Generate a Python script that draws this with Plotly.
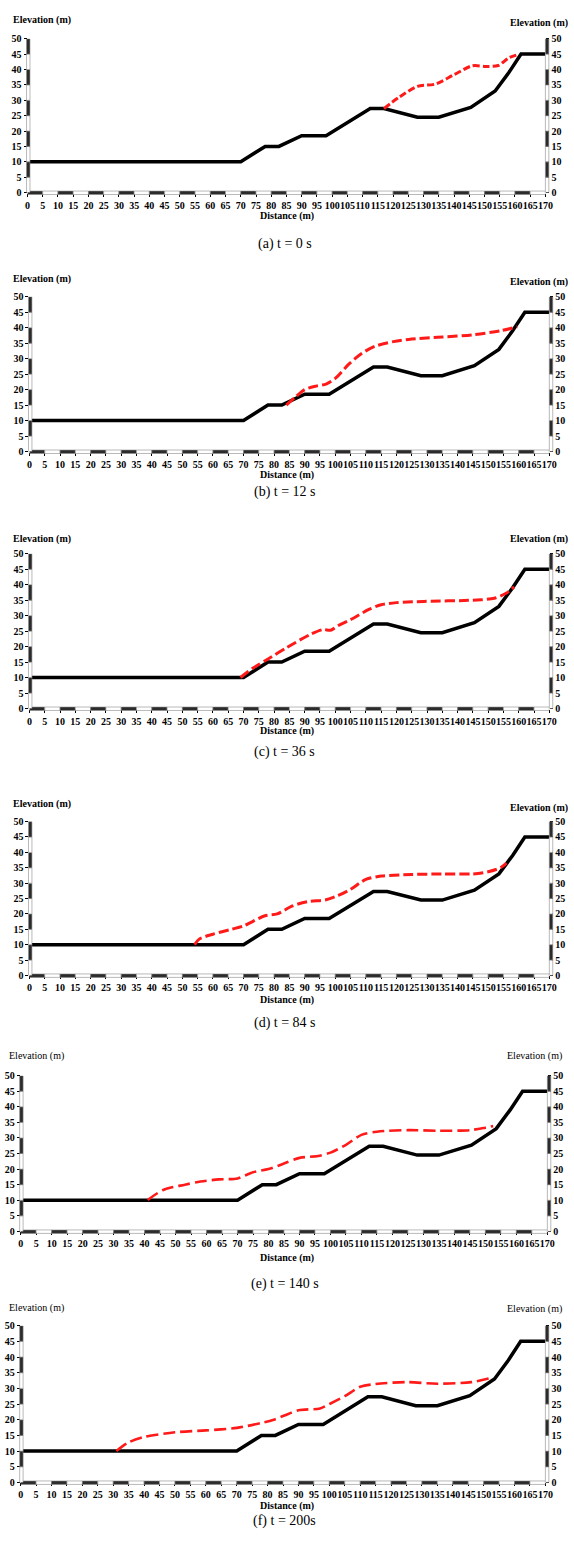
import plotly.graph_objects as go

W, H = 574, 1546

# ---- data -------------------------------------------------------------
distance_ticks = list(range(0, 171, 5))
elevation_ticks = list(range(0, 51, 5))

# ground profile (same in every panel)
terrain_x = [0, 70, 78, 82.5, 90, 98, 112.5, 117, 128, 135, 145.5, 153.5, 158, 162, 170]
terrain_y = [10, 10, 15, 15, 18.5, 18.5, 27.3, 27.3, 24.5, 24.5, 27.7, 33, 39, 45, 45]

# flow surface at each time step
surface_a_x = [117, 122, 128, 134, 140, 146, 150.5, 154.5, 158, 161.5]
surface_a_y = [27.3, 31, 34.5, 35.3, 38.3, 41.2, 41, 41.3, 43.8, 45]

surface_b_x = [84, 87, 90, 94, 97, 100, 104.5, 108.5, 113, 119, 124, 135, 145, 154, 159.5]
surface_b_y = [15, 17.6, 20, 21.2, 21.8, 23.6, 28.3, 31.6, 34, 35.5, 36.2, 37, 37.7, 39, 40.3]

surface_c_x = [69, 73, 78, 84, 92, 96, 98.5, 101, 105, 111, 115, 120, 129, 145, 152, 156, 158.5]
surface_c_y = [10, 13, 16, 19.6, 24, 25.5, 25.3, 26.8, 28.7, 32, 33.5, 34.2, 34.6, 35, 35.6, 37.3, 39.3]

surface_d_x = [54, 55.5, 60, 66, 70, 77, 81, 86, 91, 97, 101, 105, 110, 115, 125, 135, 145, 150, 154, 156]
surface_d_y = [10, 11.8, 13.4, 15, 16.1, 19.4, 20, 22.6, 24, 24.6, 26, 28, 31.2, 32.3, 32.8, 33, 33, 33.7, 35, 36.5]

surface_e_x = [41, 46, 53, 58, 64, 70, 75, 80, 85, 90, 96, 100, 105, 110, 115, 125, 135, 145, 150, 152.5]
surface_e_y = [10.1, 13.3, 15, 16, 16.7, 17, 19, 20, 21.8, 23.6, 24.2, 25.3, 27.8, 31, 32, 32.5, 32.3, 32.5, 33.3, 33.8]

surface_f_x = [31, 35, 40, 50, 60, 70, 78, 82, 90, 97, 100, 105, 110, 115, 125, 135, 146, 152.5]
surface_f_y = [10, 12.8, 14.5, 16, 16.6, 17.4, 19, 20, 23, 23.6, 25, 27.5, 30.5, 31.4, 32, 31.5, 32, 33.4]

captions = ["(a) t = 0 s", "(b) t = 12 s", "(c) t = 36 s", "(d) t = 84 s", "(e) t = 140 s", "(f) t = 200s"]
surfaces = [
    (surface_a_x, surface_a_y),
    (surface_b_x, surface_b_y),
    (surface_c_x, surface_c_y),
    (surface_d_x, surface_d_y),
    (surface_e_x, surface_e_y),
    (surface_f_x, surface_f_y),
]

# ---- panel geometry (pixels) -----------------------------------------
# left axis x, right axis x, y of elevation 50, y of elevation 0,
# y of left/right axis title, y of distance title, y of caption
panels = [
    dict(L=25, R=553, top=33, bot=188, elev_l=14, elev_r=17, dist=212, cap=240, dash="7px,3px", heavy=True),
    dict(L=27, R=557, top=293, bot=449, elev_l=275, elev_r=278, dist=473, cap=490, dash="10px,4px", heavy=True),
    dict(L=27, R=557, top=552, bot=708, elev_l=537, elev_r=537, dist=731, cap=752, dash="10px,4px", heavy=True),
    dict(L=27, R=557, top=822, bot=977, elev_l=804, elev_r=808, dist=1002, cap=1025, dash="10px,4px", heavy=True),
    dict(L=18, R=555, top=1078, bot=1235, elev_l=1058, elev_r=1058, dist=1262, cap=1288, dash="12px,5px", heavy=False),
    dict(L=18, R=553, top=1330, bot=1488, elev_l=1312, elev_r=1313, dist=1512, cap=1527, dash="12px,5px", heavy=False),
]


def px_x(p):
    return p / W


def px_y(p):
    return 1 - p / H


SERIF = "Liberation Serif, Times New Roman, serif"
DARK = "#2b2b2b"
EDGE = "#8a8a8a"

fig = go.Figure()
shapes = []
annotations = []

for i, (pan, (sx, sy), cap) in enumerate(zip(panels, surfaces, captions)):
    n = i + 1
    xa = "x" if n == 1 else f"x{n}"
    ya = "y" if i == 0 else f"y{2 * i + 1}"
    yb = f"y{2 * i + 2}"
    xkey = "xaxis" if n == 1 else f"xaxis{n}"
    ykey = "yaxis" if i == 0 else f"yaxis{2 * i + 1}"
    ykey2 = f"yaxis{2 * i + 2}"

    tick_font = dict(family=SERIF, size=10, color="black", weight="bold")
    weight = "bold" if pan["heavy"] else "normal"

    xdom = [px_x(pan["L"]), px_x(pan["R"])]
    ydom = [px_y(pan["bot"]), px_y(pan["top"])]

    fig.update_layout({
        xkey: dict(domain=xdom, range=[0, 170], anchor=ya, tickmode="array",
                   tickvals=distance_ticks, ticktext=[str(t) for t in distance_ticks],
                   ticks="outside", ticklen=3, tickwidth=1, tickcolor="black",
                   tickangle=0, tickfont=tick_font, showgrid=False, zeroline=False,
                   showline=False, fixedrange=True),
        ykey: dict(domain=ydom, range=[0, 50], anchor=xa, tickmode="array",
                   tickvals=elevation_ticks, ticks="outside", ticklen=3, tickwidth=1,
                   tickcolor="black", tickfont=tick_font, showgrid=False,
                   zeroline=False, showline=False, fixedrange=True),
        ykey2: dict(domain=ydom, range=[0, 50], anchor=xa, overlaying=ya, side="right",
                    tickmode="array", tickvals=elevation_ticks, ticks="outside",
                    ticklen=3, tickwidth=1, tickcolor="black", tickfont=tick_font,
                    showgrid=False, zeroline=False, showline=False, fixedrange=True),
    })

    # ground profile
    fig.add_trace(go.Scatter(x=terrain_x, y=terrain_y, xaxis=xa, yaxis=ya,
                             mode="lines", line=dict(color="black", width=3.5),
                             showlegend=False, hoverinfo="skip"))
    # flow surface
    fig.add_trace(go.Scatter(x=sx, y=sy, xaxis=xa, yaxis=ya, mode="lines",
                             line=dict(color="#ff1a1a", width=3 if pan["heavy"] else 2.6,
                                       dash=pan["dash"], shape="spline", smoothing=0.8),
                             showlegend=False, hoverinfo="skip"))
    # invisible trace so the right-hand axis is drawn
    fig.add_trace(go.Scatter(x=[0], y=[0], xaxis=xa, yaxis=yb, mode="markers",
                             marker=dict(opacity=0), showlegend=False, hoverinfo="skip"))

    # striped axis bars
    yb0, yb1 = px_y(pan["bot"] + 2), px_y(pan["bot"] - 1.5)
    for k in range(34):
        shapes.append(dict(type="rect", xref=xa, yref="paper", x0=5 * k, x1=5 * k + 5,
                           y0=yb0, y1=yb1, fillcolor=DARK if k % 2 == 0 else "white",
                           line=dict(color=EDGE, width=0.6), layer="above"))
    for x0p, x1p in ((pan["L"] - 1, pan["L"] + 2.5), (pan["R"], pan["R"] + 3.5)):
        for k in range(10):
            shapes.append(dict(type="rect", xref="paper", yref=ya,
                               x0=px_x(x0p), x1=px_x(x1p), y0=5 * k, y1=5 * k + 5,
                               fillcolor=DARK if k % 2 == 1 else "white",
                               line=dict(color=EDGE, width=0.6), layer="above"))

    label_font = dict(family=SERIF, size=10, color="black", weight=weight)
    annotations += [
        dict(text="Elevation (m)", xref="paper", yref="paper", x=px_x(8 if pan["heavy"] else 4),
             y=px_y(pan["elev_l"]), xanchor="left", yanchor="middle", showarrow=False,
             font=label_font),
        dict(text="Elevation (m)", xref="paper", yref="paper", x=px_x(515 if pan["heavy"] else 512),
             y=px_y(pan["elev_r"]), xanchor="left", yanchor="middle", showarrow=False,
             font=label_font),
        dict(text="Distance (m)", xref="paper", yref="paper", x=px_x(290),
             y=px_y(pan["dist"]), xanchor="center", yanchor="middle", showarrow=False,
             font=dict(family=SERIF, size=10, color="black", weight="bold")),
        dict(text=cap, xref="paper", yref="paper", x=px_x(287), y=px_y(pan["cap"]),
             xanchor="center", yanchor="middle", showarrow=False,
             font=dict(family=SERIF, size=14, color="black")),
    ]

fig.update_layout(width=W, height=H, margin=dict(l=0, r=0, t=0, b=0),
                  paper_bgcolor="white", plot_bgcolor="white",
                  shapes=shapes, annotations=annotations, showlegend=False)

# the page body gets no default margin so the figure fills the window exactly
fig.write_html("out.html",
               post_script="document.body.style.margin='0';document.body.style.overflow='hidden';")
